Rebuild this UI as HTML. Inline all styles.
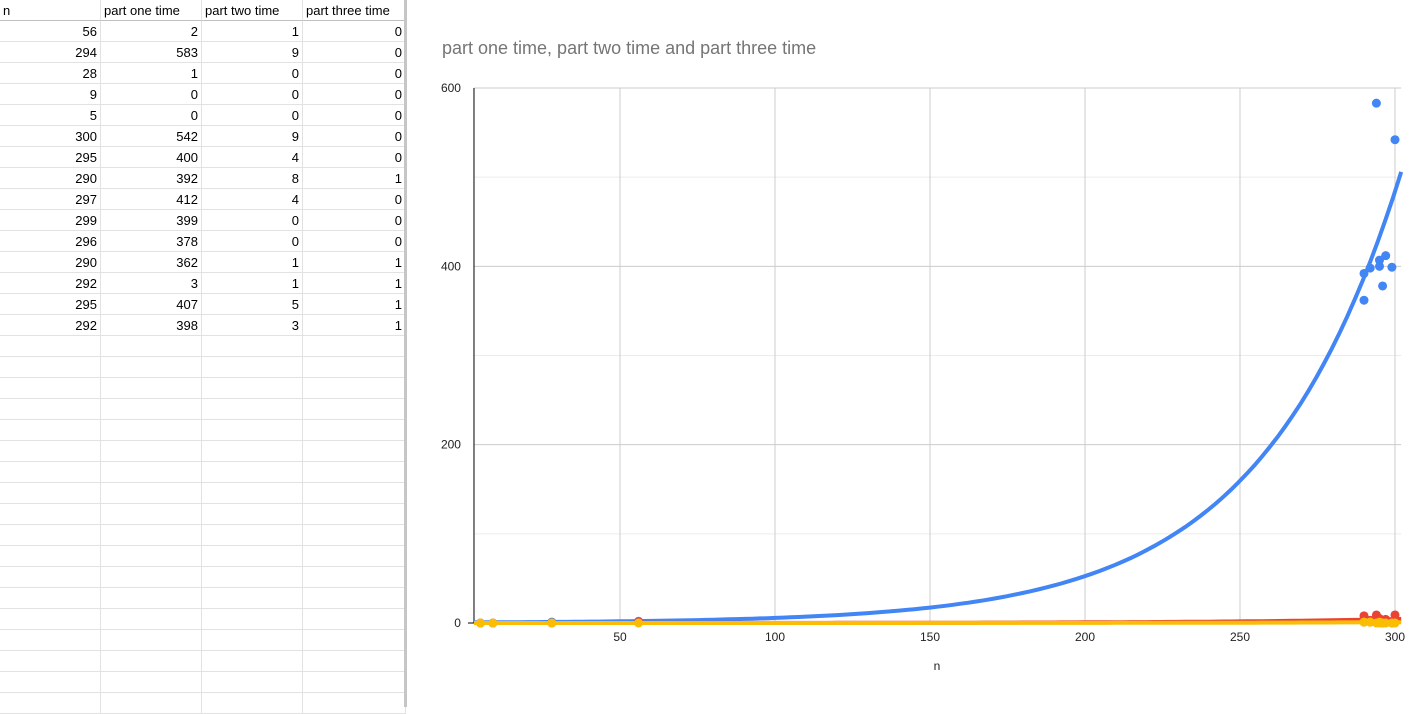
<!DOCTYPE html><html><head><meta charset="utf-8"><style>
body{margin:0;width:1421px;height:707px;overflow:hidden;background:#fff;font-family:"Liberation Sans",Arial,sans-serif}
#sheet{position:absolute;left:0;top:0}
.c{position:absolute;height:21px;box-sizing:border-box;border-right:1px solid #e2e2e2;border-bottom:1px solid #e2e2e2;font-size:13px;line-height:21px;padding:0 3px;color:#000;white-space:nowrap;overflow:hidden}
</style></head><body>
<div id="sheet"></div>
<div style="position:absolute;left:404px;top:0;width:3px;height:707px;background:#c6c6c6"></div>
<svg id="chart" width="1014" height="707" style="position:absolute;left:407px;top:0">
<text x="35" y="54" font-size="18" fill="#757575">part one time, part two time and part three time</text>
<text x="530" y="670" font-size="12" fill="#222" text-anchor="middle">n</text>
</svg>
<script>
const nVals=[56,294,28,9,5,300,295,290,297,299,296,290,292,295,292];
const partOne=[2,583,1,0,0,542,400,392,412,399,378,362,3,407,398];
const partTwo=[1,9,0,0,0,9,4,8,4,0,0,1,1,5,3];
const partThree=[0,0,0,0,0,0,0,1,0,0,0,1,1,1,1];
const xTicks=[50,100,150,200,250,300];
const yTicks=[0,200,400,600];
const trendA=[0.62,0.02,0.004];
const trendB=[0.0222,0.018,0.018];
const colors=['#4285f4','#ea4335','#fbbc04'];
const sheet=document.getElementById('sheet');
const headers=['n','part one time','part two time','part three time'];
const cols=[nVals,partOne,partTwo,partThree];
for(let r=0;r<34;r++)for(let c=0;c<4;c++){
 const d=document.createElement('div');d.className='c';
 d.style.left=(c*101)+'px';d.style.top=(r*21)+'px';d.style.width=(c==3?103:101)+'px';
 if(r==0){d.textContent=headers[c];d.style.borderBottom='1px solid #c0c0c0';}
 else if(r-1<nVals.length){d.textContent=cols[c][r-1];d.style.textAlign='right';}
 
 
 sheet.appendChild(d);}
const svg=document.getElementById('chart');const NS='http://www.w3.org/2000/svg';
const OX=407;
const xS=v=>465+v*3.1-OX, yS=v=>623-v*(535/600);
const xMin=2.9,xMax=302;
function el(t,a,name){const e=document.createElementNS(NS,t);for(const k in a)e.setAttribute(k,a[k]);
 
 
 svg.appendChild(e);return e;}
for(let v=100;v<600;v+=200)el('line',{x1:xS(xMin),x2:xS(xMax),y1:yS(v),y2:yS(v),stroke:'#ececec'},'minor-gridline');
yTicks.forEach(v=>{if(v>0)el('line',{x1:xS(xMin),x2:xS(xMax),y1:yS(v),y2:yS(v),stroke:'#cccccc'},'y-gridline');
 const t=el('text',{x:xS(xMin)-13,y:yS(v)+4,'font-size':12,'text-anchor':'end',fill:'#222'},'y-tick-label');t.textContent=v;});
xTicks.forEach(v=>{el('line',{x1:xS(v),x2:xS(v),y1:yS(600),y2:yS(0),stroke:'#cccccc'},'x-gridline');
 const t=el('text',{x:xS(v),y:yS(0)+18,'font-size':12,'text-anchor':'middle',fill:'#222'},'x-tick-label');t.textContent=v;});
el('line',{x1:xS(xMin),x2:xS(xMin),y1:yS(600),y2:yS(0),stroke:'#000'},'y-axis-line');
el('line',{x1:xS(xMin)-6,x2:xS(xMin)+6,y1:yS(0),y2:yS(0),stroke:'#000'},'y-axis-zero-tick');
[partOne,partTwo,partThree].forEach((s,i)=>{
 let d='';for(let k=0;k<=120;k++){const x=xMin+(xMax-xMin)*k/120;const y=trendA[i]*Math.exp(trendB[i]*x);d+=(k?'L':'M')+xS(x).toFixed(1)+','+yS(y).toFixed(1);}
 el('path',{d,fill:'none',stroke:colors[i],'stroke-width':4},'trendline-'+(i+1));
 s.forEach((v,j)=>el('circle',{cx:xS(nVals[j]),cy:yS(v),r:4.5,fill:colors[i]},'point-series-'+(i+1)));
});
</script>
</body></html>
